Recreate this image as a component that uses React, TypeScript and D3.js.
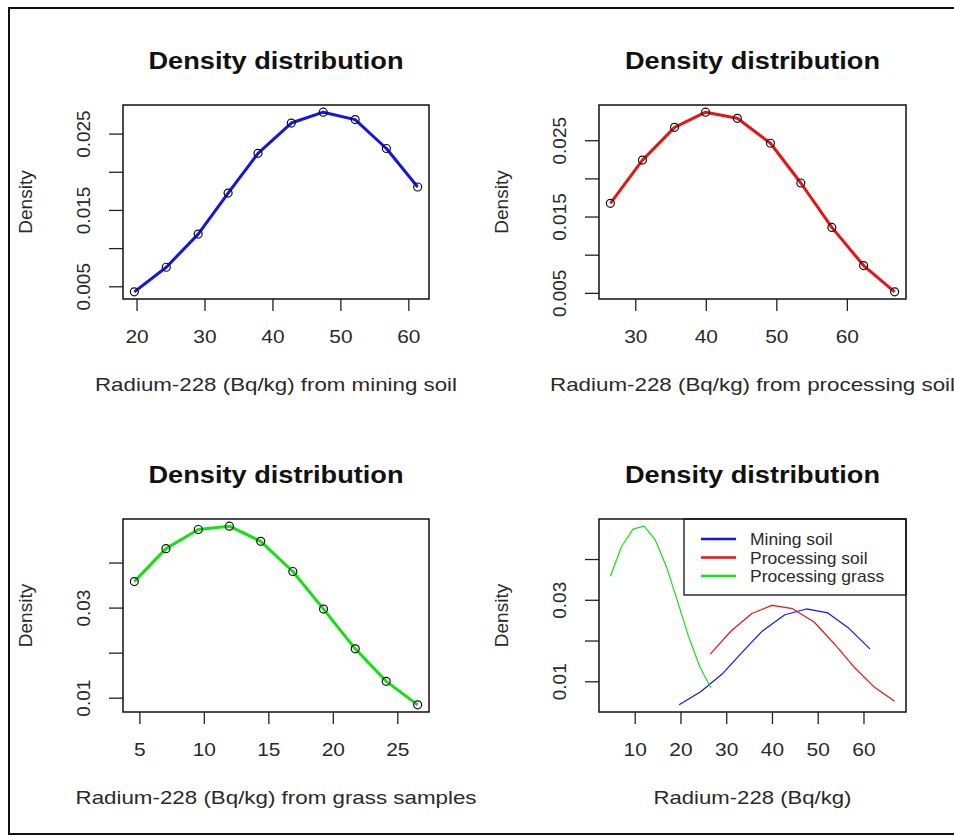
import React, { useEffect, useRef } from 'react';
import * as d3 from 'd3';

// density estimates
const miningX = [19.6, 24.3, 29.0, 33.4, 37.8, 42.7, 47.4, 52.1, 56.7, 61.3];
const miningY = [0.00434, 0.00756, 0.0119, 0.01728, 0.02248, 0.02645, 0.02787, 0.0269, 0.02311, 0.01807];
const processingX = [26.4, 30.95, 35.5, 39.9, 44.4, 49.1, 53.4, 57.8, 62.3, 66.7];
const processingY = [0.0168, 0.02246, 0.02675, 0.02874, 0.02794, 0.02467, 0.01946, 0.01364, 0.00864, 0.0052];
const grassX = [4.57, 7.02, 9.53, 11.94, 14.37, 16.86, 19.24, 21.7, 24.1, 26.54];
const grassY = [0.03588, 0.0432, 0.04745, 0.04819, 0.04483, 0.03812, 0.02978, 0.02096, 0.01374, 0.00852];

const xTicksMining = [20, 30, 40, 50, 60];
const xTicksProcessing = [30, 40, 50, 60];
const xTicksGrass = [5, 10, 15, 20, 25];
const xTicksAll = [10, 20, 30, 40, 50, 60];
const yTicksSoil = [0.005, 0.01, 0.015, 0.02, 0.025];
const yLabelsSoil = ['0.005', '', '0.015', '', '0.025'];
const yTicksGrass = [0.01, 0.02, 0.03, 0.04];
const yLabelsGrass = ['0.01', '', '0.03', ''];

const legendNames = ['Mining soil', 'Processing soil', 'Processing grass'];
const seriesColors = ['#1414e6', '#e61414', '#14e014'];

const FONT = '"Liberation Sans", Arial, sans-serif';
const TEXT = '#2a2a2a';

// R style axis range: data range padded by 4%
const padded = (values) => {
    const [lo, hi] = d3.extent(values);
    const pad = (hi - lo) * 0.04;
    return [lo - pad, hi + pad];
};

const zip = (xs, ys) => xs.map((x, i) => [x, ys[i]]);

const drawPanel = (svg, opts) => {
    const {
        box, series, xTicks, yTicks, yLabels, xLabel, xLabelWidth, thick, legend,
    } = opts;
    const allX = series.flatMap((s) => s.x);
    const allY = series.flatMap((s) => s.y);
    const x = d3.scaleLinear().domain(padded(allX)).range([box.left, box.right]);
    const y = d3.scaleLinear().domain(padded(allY)).range([box.bottom, box.top]);
    const g = svg.append('g');

    // title
    g.append('text')
        .attr('x', (box.left + box.right) / 2)
        .attr('y', box.top - 36)
        .attr('text-anchor', 'middle')
        .attr('font-family', FONT)
        .attr('font-weight', 'bold')
        .attr('font-size', 23)
        .attr('textLength', 255)
        .attr('lengthAdjust', 'spacingAndGlyphs')
        .attr('fill', '#111')
        .text('Density distribution');

    // x ticks
    xTicks.forEach((t) => {
        g.append('line')
            .attr('x1', x(t)).attr('x2', x(t))
            .attr('y1', box.bottom).attr('y2', box.bottom + 12)
            .attr('stroke', '#222').attr('stroke-width', 1.3);
        g.append('text')
            .attr('transform', `translate(${x(t)},${box.bottom + 44}) scale(1.1,1)`)
            .attr('text-anchor', 'middle')
            .attr('font-family', FONT)
            .attr('font-size', 19)
            .attr('fill', TEXT)
            .text(t);
    });

    // y ticks, labels rotated as in R
    yTicks.forEach((t, i) => {
        g.append('line')
            .attr('x1', box.left - 14).attr('x2', box.left)
            .attr('y1', y(t)).attr('y2', y(t))
            .attr('stroke', '#222').attr('stroke-width', 1.3);
        if (yLabels[i]) {
            g.append('text')
                .attr('transform', `translate(${box.left - 33},${y(t)}) rotate(-90)`)
                .attr('text-anchor', 'middle')
                .attr('font-family', FONT)
                .attr('font-size', 19)
                .attr('fill', TEXT)
                .text(yLabels[i]);
        }
    });

    // axis titles
    g.append('text')
        .attr('x', (box.left + box.right) / 2)
        .attr('y', box.bottom + 92)
        .attr('text-anchor', 'middle')
        .attr('font-family', FONT)
        .attr('font-size', 19)
        .attr('textLength', xLabelWidth)
        .attr('lengthAdjust', 'spacingAndGlyphs')
        .attr('fill', TEXT)
        .text(xLabel);
    g.append('text')
        .attr('transform', `translate(${box.left - 91},${(box.top + box.bottom) / 2}) rotate(-90)`)
        .attr('text-anchor', 'middle')
        .attr('font-family', FONT)
        .attr('font-size', 19)
        .attr('fill', TEXT)
        .text('Density');

    // curves (straight segments between the evaluated points)
    const line = d3.line()
        .x((d) => x(d[0]))
        .y((d) => y(d[1]));
    series.forEach((s) => {
        const pts = zip(s.x, s.y);
        g.append('path')
            .attr('d', line(pts))
            .attr('fill', 'none')
            .attr('stroke', s.color)
            .attr('stroke-width', thick ? 3 : 1.2)
            .attr('stroke-linejoin', 'round');
        if (thick) {
            g.selectAll(null)
                .data(pts)
                .enter()
                .append('circle')
                .attr('cx', (d) => x(d[0]))
                .attr('cy', (d) => y(d[1]))
                .attr('r', 4)
                .attr('fill', 'none')
                .attr('stroke', '#111')
                .attr('stroke-width', 1.2);
        }
    });

    // legend
    if (legend) {
        g.append('rect')
            .attr('x', legend.left).attr('y', box.top)
            .attr('width', box.right - legend.left).attr('height', legend.height)
            .attr('fill', 'white').attr('stroke', '#111').attr('stroke-width', 1.3);
        series.forEach((s, i) => {
            const ly = box.top + 20 + i * 18.5;
            g.append('line')
                .attr('x1', legend.left + 17).attr('x2', legend.left + 52)
                .attr('y1', ly).attr('y2', ly)
                .attr('stroke', s.color).attr('stroke-width', 2.5);
            g.append('text')
                .attr('transform', `translate(${legend.left + 66},${ly + 6}) scale(1.06,1)`)
                .attr('font-family', FONT)
                .attr('font-size', 16.5)
                .attr('fill', TEXT)
                .text(legendNames[i]);
        });
    }

    // plot box
    g.append('rect')
        .attr('x', box.left).attr('y', box.top)
        .attr('width', box.right - box.left).attr('height', box.bottom - box.top)
        .attr('fill', 'none').attr('stroke', '#111').attr('stroke-width', 1.5);
};

const App = () => {
    const ref = useRef(null);
    useEffect(() => {
        const svg = d3.select(ref.current);
        svg.selectAll('*').remove();

        // outer frame of the figure
        svg.append('rect')
            .attr('x', 9).attr('y', 8)
            .attr('width', 960).attr('height', 826)
            .attr('fill', 'white').attr('stroke', '#111').attr('stroke-width', 2);

        const mining = { x: miningX, y: miningY, color: seriesColors[0] };
        const processing = { x: processingX, y: processingY, color: seriesColors[1] };
        const grass = { x: grassX, y: grassY, color: seriesColors[2] };

        drawPanel(svg, {
            box: { left: 123, right: 429, top: 105, bottom: 299 },
            series: [mining],
            xTicks: xTicksMining,
            yTicks: yTicksSoil,
            yLabels: yLabelsSoil,
            xLabel: 'Radium-228 (Bq/kg) from mining soil',
            xLabelWidth: 362,
            thick: true,
        });
        drawPanel(svg, {
            box: { left: 599, right: 906, top: 105, bottom: 299 },
            series: [processing],
            xTicks: xTicksProcessing,
            yTicks: yTicksSoil,
            yLabels: yLabelsSoil,
            xLabel: 'Radium-228 (Bq/kg) from processing soil',
            xLabelWidth: 405,
            thick: true,
        });
        drawPanel(svg, {
            box: { left: 123, right: 429, top: 519, bottom: 712 },
            series: [grass],
            xTicks: xTicksGrass,
            yTicks: yTicksGrass,
            yLabels: yLabelsGrass,
            xLabel: 'Radium-228 (Bq/kg) from grass samples',
            xLabelWidth: 401,
            thick: true,
        });
        drawPanel(svg, {
            box: { left: 599, right: 906, top: 519, bottom: 712 },
            series: [mining, processing, grass],
            xTicks: xTicksAll,
            yTicks: yTicksGrass,
            yLabels: yLabelsGrass,
            xLabel: 'Radium-228 (Bq/kg)',
            xLabelWidth: 198,
            thick: false,
            legend: { left: 684, height: 76 },
        });
    }, []);

    return (
        <svg
            ref={ref}
            width={954}
            height={837}
            style={{ position: 'absolute', left: 0, top: 0, background: 'white' }}
        />
    );
};

export default App;
